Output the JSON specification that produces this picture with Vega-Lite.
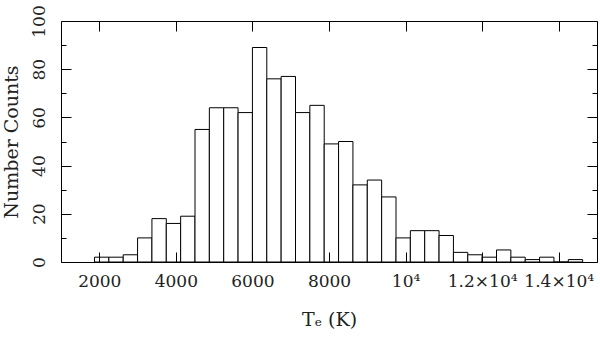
{
  "$schema": "https://vega.github.io/schema/vega-lite/v6.json",
  "width": 536,
  "height": 241,
  "autosize": "none",
  "padding": {"left": 61, "top": 21, "right": 3, "bottom": 75},
  "background": "white",
  "config": {
    "view": {"stroke": "black", "strokeWidth": 1},
    "font": "DejaVu Serif",
    "axis": {"labelFont": "DejaVu Serif", "titleFont": "DejaVu Serif", "labelColor": "#222", "titleColor": "#222", "titleFontWeight": "normal"}
  },
  "data": {
    "values": [
      {"start": 1875, "end": 2250, "count": 2},
      {"start": 2250, "end": 2625, "count": 2},
      {"start": 2625, "end": 3000, "count": 3},
      {"start": 3000, "end": 3375, "count": 10},
      {"start": 3375, "end": 3750, "count": 18},
      {"start": 3750, "end": 4125, "count": 16},
      {"start": 4125, "end": 4500, "count": 19},
      {"start": 4500, "end": 4875, "count": 55},
      {"start": 4875, "end": 5250, "count": 64},
      {"start": 5250, "end": 5625, "count": 64},
      {"start": 5625, "end": 6000, "count": 62},
      {"start": 6000, "end": 6375, "count": 89},
      {"start": 6375, "end": 6750, "count": 76},
      {"start": 6750, "end": 7125, "count": 77},
      {"start": 7125, "end": 7500, "count": 62},
      {"start": 7500, "end": 7875, "count": 65},
      {"start": 7875, "end": 8250, "count": 49},
      {"start": 8250, "end": 8625, "count": 50},
      {"start": 8625, "end": 9000, "count": 32},
      {"start": 9000, "end": 9375, "count": 34},
      {"start": 9375, "end": 9750, "count": 27},
      {"start": 9750, "end": 10125, "count": 10},
      {"start": 10125, "end": 10500, "count": 13},
      {"start": 10500, "end": 10875, "count": 13},
      {"start": 10875, "end": 11250, "count": 11},
      {"start": 11250, "end": 11625, "count": 4},
      {"start": 11625, "end": 12000, "count": 3},
      {"start": 12000, "end": 12375, "count": 2},
      {"start": 12375, "end": 12750, "count": 5},
      {"start": 12750, "end": 13125, "count": 2},
      {"start": 13125, "end": 13500, "count": 1},
      {"start": 13500, "end": 13875, "count": 2},
      {"start": 13875, "end": 14250, "count": 0},
      {"start": 14250, "end": 14625, "count": 1}
    ]
  },
  "layer": [
    {
      "mark": {"type": "bar", "fill": "white", "stroke": "black", "strokeWidth": 1, "clip": true},
      "encoding": {
        "x": {
          "field": "start", "type": "quantitative",
          "scale": {"domain": [1000, 15000], "nice": false, "zero": false},
          "axis": {
            "orient": "bottom", "title": "Tₑ (K)",
            "values": [2000, 4000, 6000, 8000, 10000, 12000, 14000],
            "ticks": false, "domain": false,
            "grid": true, "gridColor": "black", "gridOpacity": 1, "gridWidth": 1, "gridDash": [10, 221, 10, 1000],
            "zindex": 1,
            "labelFontSize": 17, "labelPadding": 11, "labelOverlap": false, "labelBound": false, "labelFlush": false,
            "labelExpr": "datum.value == 10000 ? '10⁴' : (datum.value > 10000 ? format(datum.value/10000, '.1f') + '×10⁴' : format(datum.value, 'd'))",
            "titleFontSize": 19, "titlePadding": 21
          }
        },
        "x2": {"field": "end"},
        "y": {
          "field": "count", "type": "quantitative",
          "scale": {"domain": [0, 100], "nice": false},
          "axis": {
            "orient": "left", "title": "Number Counts",
            "values": [0, 20, 40, 60, 80, 100],
            "ticks": false, "domain": false,
            "grid": true, "gridColor": "black", "gridOpacity": 1, "gridWidth": 1, "gridDash": [10, 516, 10, 1000],
            "zindex": 1,
            "labelFontSize": 17, "labelAngle": -90, "labelPadding": 13, "labelAlign": "center", "labelBaseline": "bottom",
            "titleFontSize": 19, "titlePadding": 9
          }
        },
        "y2": {"datum": 0}
      }
    },
    {
      "mark": {"type": "bar", "opacity": 0},
      "encoding": {
        "x": {"field": "start", "type": "quantitative"},
        "x2": {"field": "end"},
        "y": {
          "field": "count", "type": "quantitative",
          "axis": {
            "orient": "right", "title": null, "labels": false,
            "values": [10, 30, 50, 70, 90],
            "ticks": false, "domain": false,
            "grid": true, "gridColor": "black", "gridOpacity": 1, "gridWidth": 1, "gridDash": [5, 526, 5, 1000],
            "zindex": 1
          }
        },
        "y2": {"datum": 0}
      }
    }
  ],
  "resolve": {"axis": {"y": "independent"}}
}
